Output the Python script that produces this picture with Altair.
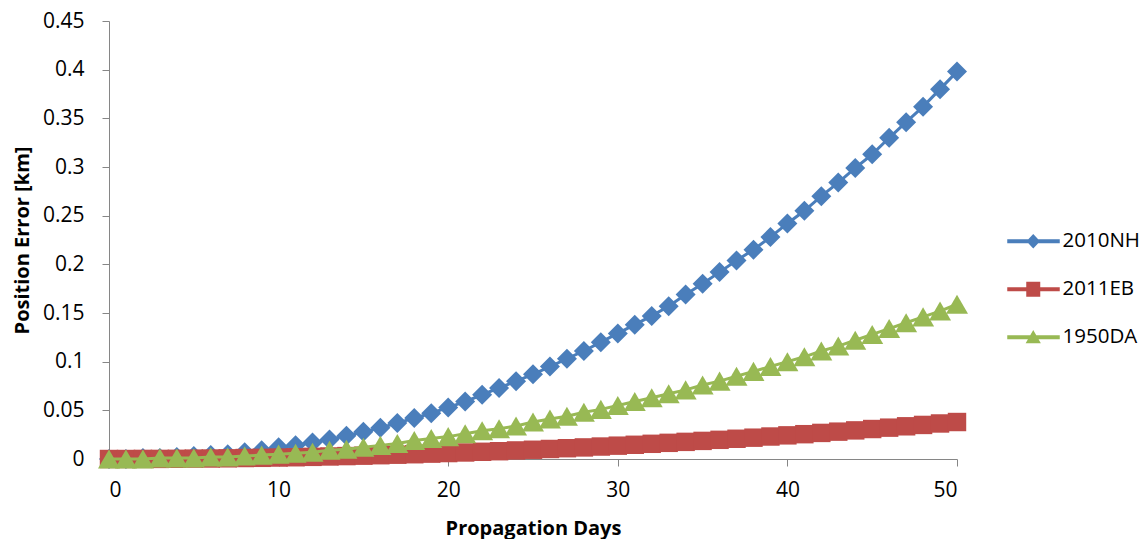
import altair as alt
import pandas as pd

days = list(range(51))
nh2010 = [0.000, 0.000, 0.001, 0.001, 0.002, 0.003, 0.004, 0.005, 0.007, 0.009,
          0.012, 0.014, 0.017, 0.020, 0.024, 0.028, 0.032, 0.037, 0.042, 0.047,
          0.053, 0.059, 0.066, 0.073, 0.080, 0.087, 0.095, 0.103, 0.111, 0.120,
          0.129, 0.138, 0.147, 0.157, 0.169, 0.180, 0.192, 0.204, 0.215, 0.228,
          0.242, 0.255, 0.270, 0.284, 0.299, 0.313, 0.330, 0.346, 0.362, 0.380,
          0.398]
eb2011 = [0.0000, 0.0000, 0.0001, 0.0001, 0.0002, 0.0004, 0.0005, 0.0007, 0.0010, 0.0012,
          0.0015, 0.0018, 0.0022, 0.0026, 0.0030, 0.0034, 0.0039, 0.0044, 0.0049, 0.0055,
          0.0061, 0.0067, 0.0074, 0.0080, 0.0088, 0.0095, 0.0103, 0.0111, 0.0119, 0.0128,
          0.0137, 0.0146, 0.0156, 0.0166, 0.0176, 0.0186, 0.0197, 0.0208, 0.0219, 0.0231,
          0.0243, 0.0255, 0.0268, 0.0281, 0.0294, 0.0308, 0.0322, 0.0336, 0.0350, 0.0365,
          0.0380]
da1950 = [0.000, 0.000, 0.000, 0.001, 0.001, 0.001, 0.002, 0.002, 0.003, 0.004,
          0.005, 0.006, 0.007, 0.009, 0.010, 0.012, 0.014, 0.016, 0.019, 0.021,
          0.023, 0.026, 0.029, 0.031, 0.034, 0.038, 0.041, 0.044, 0.048, 0.051,
          0.055, 0.059, 0.063, 0.067, 0.071, 0.076, 0.080, 0.085, 0.090, 0.095,
          0.100, 0.105, 0.111, 0.116, 0.122, 0.128, 0.134, 0.140, 0.146, 0.152,
          0.159]

series_names = ["2010NH", "2011EB", "1950DA"]
series_values = [nh2010, eb2011, da1950]
colors = ["#4A7EBB", "#BE4B48", "#98B954"]
shapes = ["diamond", "square", "triangle-up"]
marker_sizes = [400, 340, 484]

x_ticks = [0, 10, 20, 30, 40, 50]
y_ticks = [0, 0.05, 0.1, 0.15, 0.2, 0.25, 0.3, 0.35, 0.4, 0.45]

rows = []
for name, vals in zip(series_names, series_values):
    for d, v in zip(days, vals):
        rows.append({"day": d, "error": v, "series": name})
df = pd.DataFrame(rows)

FONT = "Open Sans"
LABEL_SIZE = 21
LEGEND_SIZE = 20.5
TITLE_SIZE = 20

x_enc = alt.X(
    "day:Q",
    scale=alt.Scale(domain=[0, 50], nice=False, zero=False),
    axis=alt.Axis(
        values=x_ticks, title="Propagation Days", grid=False,
        domainColor="#868686", tickColor="#868686", tickSize=7,
        labelFont=FONT, labelFontSize=LABEL_SIZE, labelColor="#000000", labelPadding=13,
        titleFont=FONT, titleFontSize=TITLE_SIZE, titleFontWeight="bold", titleColor="#000000",
        titleX=424, titleY=75, titleBaseline="alphabetic", titleAlign="center",
    ),
)
y_enc = alt.Y(
    "error:Q",
    scale=alt.Scale(domain=[0, 0.45], nice=False),
    axis=alt.Axis(
        values=y_ticks, format=".2~f", title="Position Error [km]", grid=False,
        domainColor="#868686", tickColor="#868686", tickSize=7,
        labelFont=FONT, labelFontSize=LABEL_SIZE, labelColor="#000000", labelPadding=18,
        titleFont=FONT, titleFontSize=TITLE_SIZE, titleFontWeight="bold", titleColor="#000000",
        titleX=-87, titleY=219, titleAngle=270, titleBaseline="middle", titleAlign="center",
    ),
)

base = alt.Chart(df)
layers = []
for name, col, shp, sz in zip(series_names, colors, shapes, marker_sizes):
    sub = base.transform_filter(alt.datum.series == name)
    layers.append(sub.mark_line(color=col, strokeWidth=3).encode(x=x_enc, y=y_enc))
    layers.append(sub.mark_point(filled=True, opacity=1, color=col, shape=shp, size=sz, strokeWidth=0)
                  .encode(x=x_enc, y=y_enc))

line_bar = "M-2.6,-0.2L2.65,-0.2L2.65,0.2L-2.6,0.2Z"
legend_paths = [
    line_bar + "M0,-0.72L0.68,0L0,0.72L-0.68,0Z",
    line_bar + "M-0.7,-0.74L0.7,-0.74L0.7,0.74L-0.7,0.74Z",
    line_bar + "M0,-0.72L0.76,0.6L-0.76,0.6Z",
]

legend_kw = dict(
    title=None, orient="none", legendX=914, legendY=210, padding=0,
    symbolSize=400, symbolStrokeWidth=0, symbolOpacity=1,
    labelFont=FONT, labelFontSize=LEGEND_SIZE, labelColor="#000000", labelOffset=19,
    rowPadding=27,
)

legend_layer = base.transform_filter("false").mark_point(filled=True, opacity=1).encode(
    x=x_enc, y=y_enc,
    color=alt.Color("series:N", scale=alt.Scale(domain=series_names, range=colors),
                    legend=alt.Legend(**legend_kw)),
    shape=alt.Shape("series:N", scale=alt.Scale(domain=series_names, range=legend_paths),
                    legend=alt.Legend(**legend_kw)),
)
layers.append(legend_layer)

chart = alt.layer(*layers).properties(
    width=848, height=438,
    padding={"left": 101, "top": 13, "right": 183, "bottom": 80},
    autosize=alt.AutoSizeParams(type="none"),
    background="white",
).configure_view(stroke=None).configure_legend(
    labelFont=FONT, labelFontSize=LEGEND_SIZE, labelColor="#000000",
    symbolSize=400, labelOffset=19, rowPadding=27, padding=0,
)

chart.save("out.html", embed_options={"renderer": "svg", "actions": False})
